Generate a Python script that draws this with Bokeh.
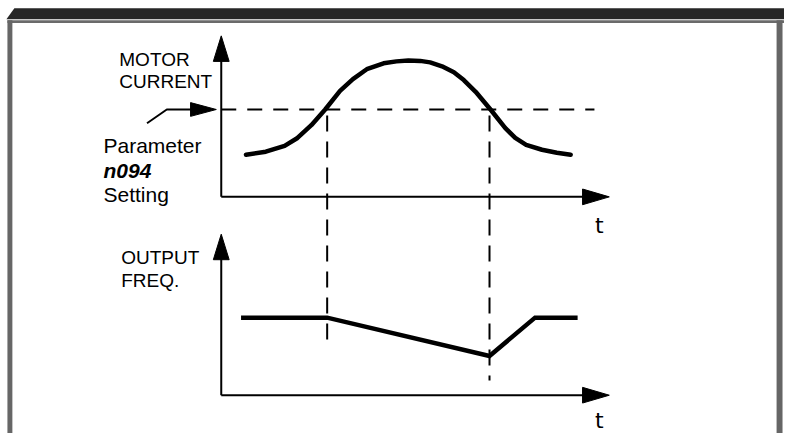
from bokeh.plotting import figure
from bokeh.models import Range1d
from bokeh.core.properties import value
from bokeh.embed import file_html
from bokeh.resources import INLINE

# ---- data (diagram units = reference pixels) ----
current_x = [248, 268, 287, 300, 314, 328, 343, 356, 370, 387, 400, 412, 424, 434, 446, 458, 468, 480, 495, 510, 520, 531, 547, 562, 576]
current_y = [157, 154, 148, 140, 127, 111, 92, 80, 70, 64, 62, 61, 61.5, 63, 67, 73, 81, 93, 111, 130, 140, 147, 152, 155, 157]
freq_x = [243, 330, 494, 540, 583]
freq_y = [323, 323, 362, 323, 323]
setpoint_y = 111
cross_x = [330, 494]
cross_end_y = [350, 387]
upper_axis = dict(x0=223, top=60, bottom=200, right=590)
lower_axis = dict(x0=223, top=262, bottom=402, right=590)

FONT = value("Liberation Sans")

p = figure(width=784, height=433, x_range=Range1d(0, 792), y_range=Range1d(441, 0),
           output_backend="svg", toolbar_location=None, min_border=0)
p.axis.visible = False
p.grid.visible = False
p.outline_line_color = None
p.background_fill_color = "white"
p.border_fill_color = "white"

# ---- frame ----
p.patch([6, 14, 792, 792], [19, 8, 8, 19], fill_color="#262626", line_color=None)
p.quad(left=[7], right=[792], top=[20], bottom=[23], fill_color="#6a6a6a", line_color=None)
p.quad(left=[7], right=[12], top=[20], bottom=[441], fill_color="#666666", line_color=None)
p.quad(left=[784], right=[790], top=[20], bottom=[441], fill_color="#666666", line_color=None)

# ---- axes ----
for ax in (upper_axis, lower_axis):
    x0, top, bot, right = ax["x0"], ax["top"], ax["bottom"], ax["right"]
    p.line([x0, x0], [top, bot], line_color="black", line_width=2)
    p.line([x0, right], [bot, bot], line_color="black", line_width=2)
    # vertical arrowhead
    p.patch([x0 - 8, x0, x0 + 8], [top + 2, top - 24, top + 2], fill_color="black", line_color="black", line_width=1)
    # horizontal arrowhead
    p.patch([right - 2, right + 25, right - 2], [bot - 8, bot, bot + 8], fill_color="black", line_color="black", line_width=1)

# ---- dashed reference lines ----
p.line([223, 600], [setpoint_y, setpoint_y], line_color="black", line_width=2, line_dash="15 11")
for cx, ey in zip(cross_x, cross_end_y):
    p.line([cx, cx], [setpoint_y + 6, ey], line_color="black", line_width=2, line_dash="16 10")

# ---- curves ----
p.line(current_x, current_y, line_color="black", line_width=4.5, line_join="round", line_cap="round")
p.line(freq_x, freq_y, line_color="black", line_width=4.5, line_join="miter")

# ---- setpoint pointer ----
p.line([148, 168, 194], [125, 111, 111], line_color="black", line_width=2)
p.patch([192, 218, 192], [104, 111, 118], fill_color="black", line_color="black", line_width=1)

# ---- texts ----
p.text(x=[120, 120], y=[60, 82], text=["MOTOR", "CURRENT"], text_font=FONT,
       text_font_size=value("19px"), text_baseline="alphabetic", text_color="black")
p.text(x=[122, 122], y=[262, 285], text=["OUTPUT", "FREQ."], text_font=FONT,
       text_font_size=value("19px"), text_baseline="alphabetic", text_color="black")
p.text(x=[104, 104], y=[148, 198], text=["Parameter", "Setting"], text_font=FONT,
       text_font_size=value("21px"), text_baseline="alphabetic", text_color="black")
p.text(x=[104], y=[173], text=["n094"], text_font=FONT, text_font_style="bold italic",
       text_font_size=value("21px"), text_baseline="alphabetic", text_color="black")
p.text(x=[605, 605], y=[229, 428], text=["t", "t"], text_font=value("DejaVu Sans"),
       text_font_size=value("22px"), text_baseline="alphabetic", text_align="center", text_color="black")

open("out.html", "w").write(file_html(p, INLINE))
